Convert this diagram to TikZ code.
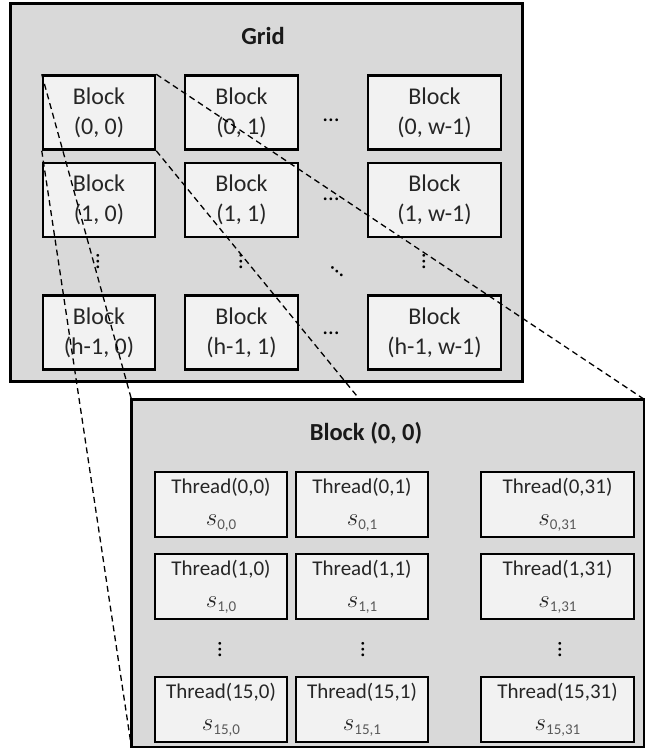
\documentclass[tikz,border=0pt]{standalone}
\usepackage{fontspec}
\setmainfont{Carlito}
\definecolor{outerfill}{HTML}{D9D9D9}
\definecolor{innerfill}{HTML}{F2F2F2}
\newcommand{\sv}[2]{{\fontsize{23}{23}\selectfont$s$}\raisebox{-4pt}{\fontsize{15}{15}\selectfont\color{black!65}#1,#2}}
\begin{document}
\begin{tikzpicture}[x=1pt,y=-1pt,
 outerbox/.style={draw=black, line width=3pt, fill=outerfill, inner sep=0pt},
 blk/.style={draw=black, line width=2.5pt, fill=innerfill, inner sep=0pt, minimum height=74pt, align=center, text=black!85, font=\fontsize{24}{30}\selectfont},
 thr/.style={draw=black, line width=2.5pt, fill=innerfill, inner sep=0pt, minimum height=65pt, align=center, text=black!85, font=\fontsize{21}{32}\selectfont},
 ttl/.style={font=\bfseries\fontsize{24.5}{28}\selectfont, text=black!90, inner sep=0pt},
 dts/.style={font=\fontsize{23}{23}\selectfont, inner sep=0pt, text=black},
 zoomline/.style={draw=black, line width=1.3pt, dash pattern=on 6pt off 4pt}]
\useasboundingbox (0,0) rectangle (645,748);
\fill[white] (0,0) rectangle (645,748);

% Grid
\node[outerbox, minimum width=512pt, minimum height=378pt] (grid) at (266,192) {};
\node[ttl] (gridt) at (263,36) {Grid};

\node[blk, minimum width=112pt] (b00) at (99,112.5) {Block\\(0, 0)};
\node[blk, minimum width=113pt] (b01) at (241.5,112.5) {Block\\(0, 1)};
\node[blk, minimum width=133pt] (b0w) at (434.5,112.5) {Block\\(0, w-1)};
\node[blk, minimum width=112pt] (b10) at (99,200) {Block\\(1, 0)};
\node[blk, minimum width=113pt] (b11) at (241.5,200) {Block\\(1, 1)};
\node[blk, minimum width=133pt] (b1w) at (434.5,200) {Block\\(1, w-1)};
\node[blk, minimum width=112pt] (bh0) at (99,332.5) {Block\\(h-1, 0)};
\node[blk, minimum width=113pt] (bh1) at (241.5,332.5) {Block\\(h-1, 1)};
\node[blk, minimum width=133pt] (bhw) at (434.5,332.5) {Block\\(h-1, w-1)};

\node[dts] (gh1) at (331,120) {…};
\node[dts] (gh2) at (331,199) {…};
\node[dts] (gh3) at (331,333) {…};
\node[dts, rotate=90] (gv1) at (98,262) {…};
\node[dts, rotate=90] (gv2) at (241,262) {…};
\node[dts, rotate=90] (gv3) at (424,262) {…};
\node[dts, rotate=-40] (gd) at (337,272) {…};

% Block (0,0) frame (placed first so the zoom lines can reach it)
\path (388,573.5) node[outerbox, minimum width=510pt, minimum height=345pt] (big) {};

% zoom lines (over the grid, under the enlarged block)
\draw[zoomline] (b00.north west) -- (big.north west);
\draw[zoomline] (b00.south west) -- (big.south west);
\draw[zoomline] (b00.north east) -- (big.north east);
\draw[zoomline] (b00.south east) -- (big.south east);

% redraw enlarged block on top of the lines
\fill[outerfill] (big.north west) rectangle (big.south east);
\draw[black, line width=3pt] (big.north west) rectangle (big.south east);
\node[ttl] (bigt) at (366,433) {Block (0, 0)};

\node[thr, minimum width=132pt] (t00) at (221,504.5) {Thread(0,0)\\\sv{0}{0}};
\node[thr, minimum width=132pt] (t01) at (362,504.5) {Thread(0,1)\\\sv{0}{1}};
\node[thr, minimum width=153pt] (t0w) at (557.5,504.5) {Thread(0,31)\\\sv{0}{31}};
\node[thr, minimum width=132pt] (t10) at (221,586.5) {Thread(1,0)\\\sv{1}{0}};
\node[thr, minimum width=132pt] (t11) at (362,586.5) {Thread(1,1)\\\sv{1}{1}};
\node[thr, minimum width=153pt] (t1w) at (557.5,586.5) {Thread(1,31)\\\sv{1}{31}};
\node[thr, minimum width=132pt] (th0) at (221,709.5) {Thread(15,0)\\\sv{15}{0}};
\node[thr, minimum width=132pt] (th1) at (362,709.5) {Thread(15,1)\\\sv{15}{1}};
\node[thr, minimum width=153pt] (thw) at (557.5,709.5) {Thread(15,31)\\\sv{15}{31}};

\node[dts, rotate=90] (tv1) at (220,650) {…};
\node[dts, rotate=90] (tv2) at (363,650) {…};
\node[dts, rotate=90] (tv3) at (560,650) {…};
\end{tikzpicture}
\end{document}
